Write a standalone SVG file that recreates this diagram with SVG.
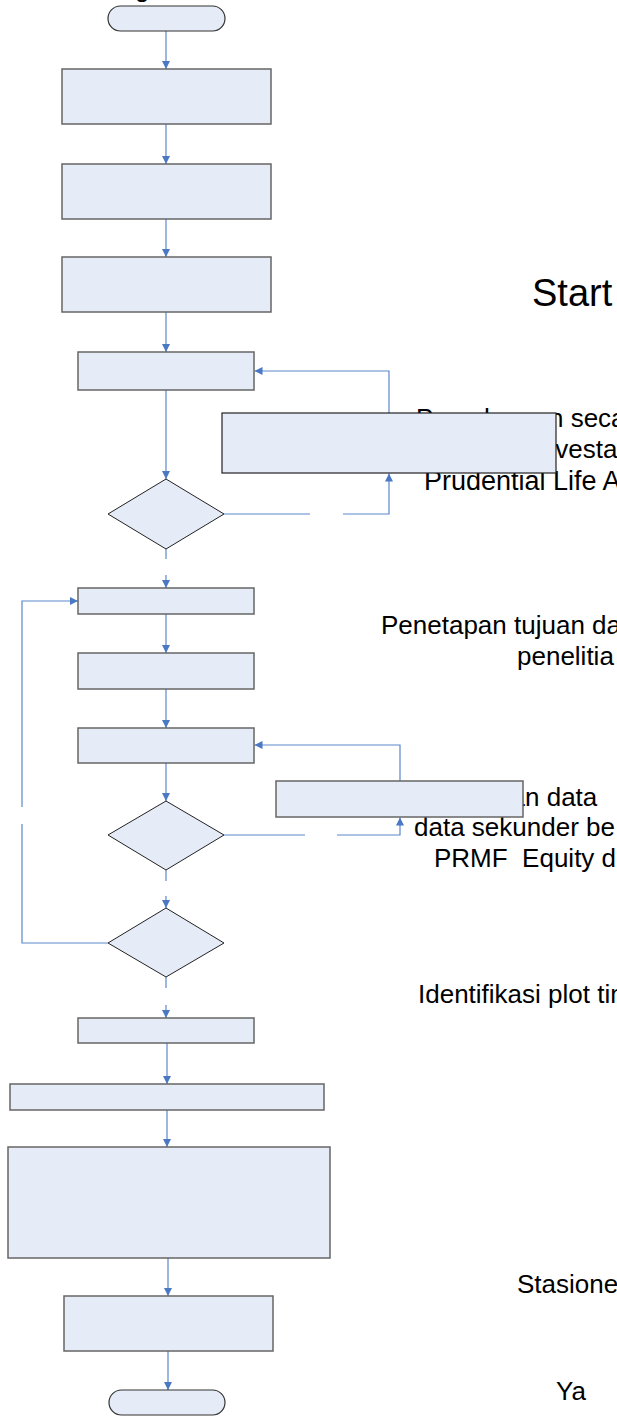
<svg xmlns="http://www.w3.org/2000/svg" width="617" height="1416" viewBox="0 0 617 1416">
  <style>
    .box { fill: #e6ecf7; stroke: #666666; stroke-width: 1.5; }
    .term { fill: #e6ecf7; stroke: #333333; stroke-width: 1.2; }
    .dec { fill: #e6ecf7; stroke: #222222; stroke-width: 1; }
    .link { fill: none; stroke: #5b87cb; stroke-width: 1.2; }
    .txt { font-family: "Liberation Sans", Arial, sans-serif; font-size: 26px; fill: #000000; white-space: pre; }
    .big { font-size: 38px; }
  </style>
  <defs>
    <marker id="arrow" viewBox="0 0 10 10" refX="10" refY="5" markerUnits="userSpaceOnUse" markerWidth="9" markerHeight="8" orient="auto">
      <path d="M0,0 L10,5 L0,10 z" fill="#4a78c2"/>
    </marker>
  </defs>

  <!-- labels -->
  <g id="labels">
    <text class="txt" x="135" y="-3">g</text>
    <text class="txt big" x="532" y="306">Start</text>
    <text class="txt" x="416" y="427">Pemahaman secara</text>
    <text class="txt" x="535" y="458">investasi</text>
    <text class="txt" x="424" y="490" style="font-size:27px">Prudential Life A</text>
    <text class="txt" x="381" y="634">Penetapan tujuan da</text>
    <text class="txt" x="517" y="665">penelitia</text>
    <text class="txt" x="379" y="806">Pengumpulan data</text>
    <text class="txt" x="414" y="836">data sekunder be</text>
    <text class="txt" x="434" y="867">PRMF  Equity d</text>
    <text class="txt" x="418" y="1003">Identifikasi plot tim</text>
    <text class="txt" x="517" y="1293">Stasione</text>
    <text class="txt" x="556" y="1400">Ya</text>
  </g>

  <!-- connectors -->
  <g id="connectors">
    <path class="link" d="M166,31 V69" marker-end="url(#arrow)"/>
    <path class="link" d="M166,124 V164" marker-end="url(#arrow)"/>
    <path class="link" d="M166,219 V257" marker-end="url(#arrow)"/>
    <path class="link" d="M166,312 V352" marker-end="url(#arrow)"/>
    <path class="link" d="M166,390 V479" marker-end="url(#arrow)"/>
    <path class="link" d="M224,514 H310"/>
    <path class="link" d="M343,514 H389 V473.5" marker-end="url(#arrow)"/>
    <path class="link" d="M389,413 V371 H254.5" marker-end="url(#arrow)"/>
    <path class="link" d="M166,549 V559"/>
    <path class="link" d="M166,575 V588" marker-end="url(#arrow)"/>
    <path class="link" d="M166,614 V653" marker-end="url(#arrow)"/>
    <path class="link" d="M166,689 V728" marker-end="url(#arrow)"/>
    <path class="link" d="M166,763 V801" marker-end="url(#arrow)"/>
    <path class="link" d="M224,835 H305"/>
    <path class="link" d="M337,835 H400 V817.5" marker-end="url(#arrow)"/>
    <path class="link" d="M400,781 V745 H254.5" marker-end="url(#arrow)"/>
    <path class="link" d="M166,870 V881"/>
    <path class="link" d="M166,896 V908" marker-end="url(#arrow)"/>
    <path class="link" d="M108,943 H22 V824"/>
    <path class="link" d="M22,807 V601 H78" marker-end="url(#arrow)"/>
    <path class="link" d="M166,977 V988"/>
    <path class="link" d="M166,1005 V1018" marker-end="url(#arrow)"/>
    <path class="link" d="M167,1043 V1084" marker-end="url(#arrow)"/>
    <path class="link" d="M167,1110 V1147" marker-end="url(#arrow)"/>
    <path class="link" d="M168,1258 V1296" marker-end="url(#arrow)"/>
    <path class="link" d="M168,1351 V1390" marker-end="url(#arrow)"/>
  </g>

  <!-- nodes -->
  <g id="start"><rect class="term" x="108" y="6" width="117" height="25" rx="12.5"/></g>
  <g id="step1"><rect class="box" x="62" y="69" width="209" height="55"/></g>
  <g id="step2"><rect class="box" x="62" y="164" width="209" height="55"/></g>
  <g id="step3"><rect class="box" x="62" y="257" width="209" height="55"/></g>
  <g id="step4"><rect class="box" x="78" y="352" width="176" height="38"/></g>
  <g id="side1"><rect class="box" x="222" y="413" width="334" height="60" style="stroke:#222222;stroke-width:1.2"/></g>
  <g id="check1"><polygon class="dec" points="166,479 224,514 166,549 108,514"/></g>
  <g id="step5"><rect class="box" x="78" y="588" width="176" height="26"/></g>
  <g id="step6"><rect class="box" x="78" y="653" width="176" height="36"/></g>
  <g id="step7"><rect class="box" x="78" y="728" width="176" height="35"/></g>
  <g id="side2"><rect class="box" x="276" y="781" width="247" height="36"/></g>
  <g id="check2"><polygon class="dec" points="166,801 224,835 166,870 108,835"/></g>
  <g id="check3"><polygon class="dec" points="166,908 224,943 166,977 108,943"/></g>
  <g id="step8"><rect class="box" x="78" y="1018" width="176" height="25"/></g>
  <g id="step9"><rect class="box" x="10" y="1084" width="314" height="26"/></g>
  <g id="step10"><rect class="box" x="8" y="1147" width="322" height="111"/></g>
  <g id="step11"><rect class="box" x="64" y="1296" width="209" height="55"/></g>
  <g id="end"><rect class="term" x="109" y="1390" width="116" height="25" rx="12.5"/></g>
</svg>
